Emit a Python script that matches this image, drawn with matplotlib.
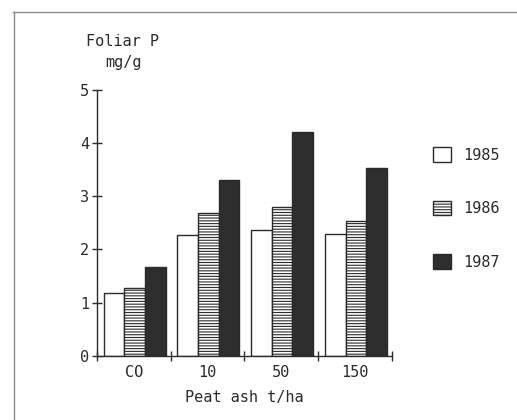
import numpy as np
import matplotlib.pyplot as plt
from matplotlib.patches import Patch
from matplotlib.lines import Line2D

plt.rcParams['font.family'] = ['DejaVu Sans Mono']
plt.rcParams['hatch.linewidth'] = 0.8

# data
doses = ["CO", "10", "50", "150"]
years = ["1985", "1986", "1987"]
p1985 = [1.18, 2.27, 2.36, 2.29]
p1986 = [1.27, 2.68, 2.79, 2.54]
p1987 = [1.67, 3.31, 4.21, 3.53]

ink = "#2b2b2b"
faces = ["white", "white", "#2e2e2e"]
hatches = [None, "------", None]

fig = plt.figure(figsize=(5.17, 4.2), dpi=100)
ax = fig.add_axes([0.1876, 0.1531, 0.5706, 0.6326])

x = np.arange(len(doses))
w = 0.28
start = 0.09
for i, vals in enumerate([p1985, p1986, p1987]):
    ax.bar(x + start + i * w, vals, width=w, align="edge",
           facecolor=faces[i], edgecolor=ink, linewidth=1.0,
           hatch=hatches[i], label=years[i])

ax.set_xlim(0, 4)
ax.set_ylim(0, 5)
for s in ["top", "right"]:
    ax.spines[s].set_visible(False)
for s in ["left", "bottom"]:
    ax.spines[s].set_color(ink)
    ax.spines[s].set_linewidth(1.0)

ax.set_yticks(range(6))
ax.tick_params(axis="y", direction="inout", length=7, width=1, colors=ink,
               labelsize=11, pad=2)
ax.set_xticks(range(5))
ax.set_xticklabels([])
ax.tick_params(axis="x", which="major", direction="inout", length=7, width=1,
               colors=ink)
ax.set_xticks(x + 0.5, minor=True)
ax.set_xticklabels(doses, minor=True, fontsize=11, color=ink)
ax.tick_params(axis="x", which="minor", length=0, pad=7)

ax.set_xlabel("Peat ash t/ha", fontsize=11, color=ink, labelpad=7)
fig.text(123 / 517, 1 - 41 / 420, "Foliar P", ha="center", va="center",
         fontsize=11, color=ink)
fig.text(123 / 517, 1 - 63 / 420, "mg/g", ha="center", va="center",
         fontsize=11, color=ink)

handles = [Patch(facecolor=faces[i], edgecolor=ink, hatch=hatches[i],
                 linewidth=1.0) for i in range(3)]
fig.legend(handles, years, loc="upper left",
           bbox_to_anchor=(433 / 517, 1 - 147 / 420), frameon=False,
           fontsize=11, handlelength=1.18, handleheight=1.1,
           handletextpad=0.8, labelspacing=2.5, borderpad=0,
           borderaxespad=0, labelcolor=ink)

# outer frame
fig.add_artist(Line2D([13 / 517, 1], [1 - 12 / 420, 1 - 12 / 420],
                      transform=fig.transFigure, color="#8a8a8a", lw=1))
fig.add_artist(Line2D([14 / 517, 14 / 517], [0, 1 - 12 / 420],
                      transform=fig.transFigure, color="#8a8a8a", lw=1))

fig.savefig("out.png", dpi=100)
